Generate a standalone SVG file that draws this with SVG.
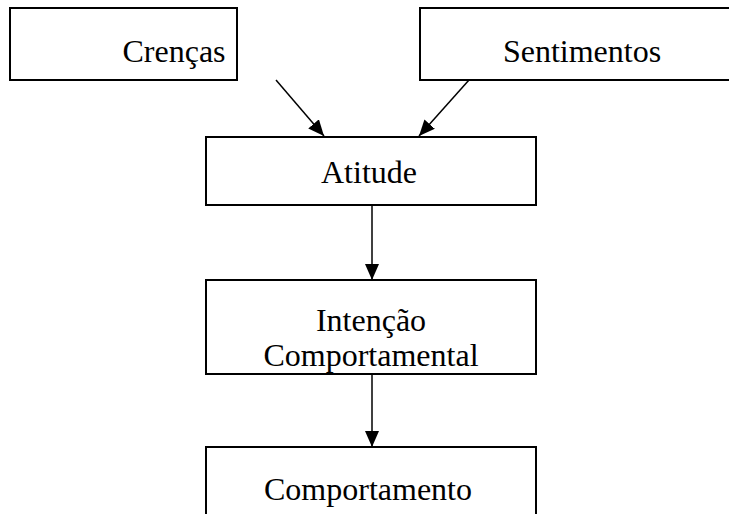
<svg xmlns="http://www.w3.org/2000/svg" width="729" height="514" viewBox="0 0 729 514">
<style>
.box{fill:#fff;stroke:#000;stroke-width:2}
.c{stroke:#000;stroke-width:1.5;fill:none}
</style>
<defs>
<marker id="ah" viewBox="0 0 16 14" refX="16" refY="7" markerWidth="16" markerHeight="14" markerUnits="userSpaceOnUse" orient="auto">
<path d="M0,0 L16,7 L0,14 z" fill="#000"/>
</marker>
</defs>
<g font-family="Liberation Serif, DejaVu Serif, serif" font-size="32" text-anchor="middle" fill="#000">
<g id="crencas"><rect class="box" x="10" y="8" width="227" height="72"/><text x="174" y="62">Crenças</text></g>
<g id="sentimentos"><rect class="box" x="420" y="8" width="320" height="72"/><text x="582" y="62">Sentimentos</text></g>
<g id="atitude"><rect class="box" x="206" y="137" width="330" height="68"/><text x="369" y="183">Atitude</text></g>
<g id="intencao"><rect class="box" x="206" y="280" width="330" height="94"/><text x="371" y="331">Intenção</text><text x="371" y="366">Comportamental</text></g>
<g id="comportamento"><rect class="box" x="206" y="447" width="330" height="80"/><text x="368" y="500">Comportamento</text></g>
</g>
<g id="connectors">
<line class="c" x1="276" y1="80" x2="324" y2="136" marker-end="url(#ah)"/>
<line class="c" x1="469" y1="80" x2="419" y2="136" marker-end="url(#ah)"/>
<line class="c" x1="372" y1="205" x2="372" y2="280" marker-end="url(#ah)"/>
<line class="c" x1="372" y1="374" x2="372" y2="447" marker-end="url(#ah)"/>
</g>
</svg>
